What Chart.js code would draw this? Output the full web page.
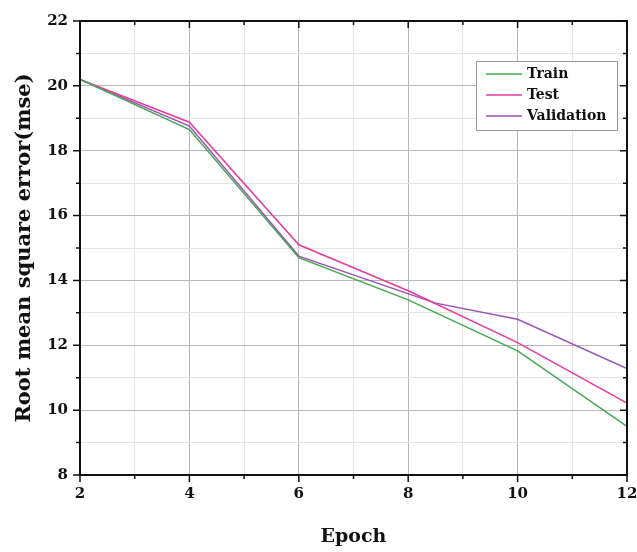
<!DOCTYPE html>
<html>
<head>
<meta charset="utf-8">
<script src="https://cdn.jsdelivr.net/npm/chart.js@4.4.1/dist/chart.umd.min.js"></script>
<style>
  html, body { margin: 0; padding: 0; background: #fff; }
  #wrap { width: 637px; height: 552px; }
</style>
</head>
<body>
<div id="wrap"><canvas id="myChart" width="637" height="552"></canvas></div>
<script>
// values
var epochs = [2, 4, 6, 8, 10, 12];
var trainRmse = [20.2, 18.65, 14.7, 13.4, 11.83, 9.5];
var testRmse = [20.2, 18.88, 15.1, 13.68, 12.08, 10.22];
var validationEpochs = [2, 4, 6, 8.5, 10, 12];
var validationRmse = [20.2, 18.76, 14.75, 13.3, 12.8, 11.28];
var xTicks = [2, 4, 6, 8, 10, 12];
var yTicks = [8, 10, 12, 14, 16, 18, 20, 22];

var serif = "'DejaVu Serif', 'Liberation Serif', serif";

function pts(xs, ys) {
    return xs.map(function(x, i) { return { x: x, y: ys[i] }; });
}

// box, ticks on all four sides
var framePlugin = {
    id: 'frame',
    afterDraw: function(chart) {
        var c = chart.ctx, a = chart.chartArea;
        var xs = chart.scales.x, ys = chart.scales.y;
        c.save();
        c.strokeStyle = '#111';
        c.lineWidth = 2;
        c.strokeRect(a.left, a.top, a.right - a.left, a.bottom - a.top);
        c.lineWidth = 1.5;
        c.beginPath();
        for (var v = xs.min; v <= xs.max; v++) {
            var px = xs.getPixelForValue(v);
            var len = xTicks.indexOf(v) >= 0 ? 7 : 4;
            c.moveTo(px, a.bottom); c.lineTo(px, a.bottom + len);
            c.moveTo(px, a.top); c.lineTo(px, a.top + len);
        }
        for (var w = ys.min; w <= ys.max; w++) {
            var py = ys.getPixelForValue(w);
            var l2 = yTicks.indexOf(w) >= 0 ? 7 : 4;
            c.moveTo(a.left, py); c.lineTo(a.left - l2, py);
            c.moveTo(a.right, py); c.lineTo(a.right - l2, py);
        }
        c.stroke();
        c.restore();
    }
};

// legend box in the upper right of the plot
var legendPlugin = {
    id: 'boxLegend',
    afterDraw: function(chart) {
        var c = chart.ctx;
        var bx = 476, by = 61, bw = 141, bh = 69;
        c.save();
        c.fillStyle = '#fff';
        c.fillRect(bx, by, bw, bh);
        c.strokeStyle = '#999';
        c.lineWidth = 1;
        c.strokeRect(bx + 0.5, by + 0.5, bw, bh);
        c.font = 'bold 14px ' + serif;
        c.textBaseline = 'middle';
        chart.data.datasets.forEach(function(ds, i) {
            var y = by + 13 + i * 21;
            c.strokeStyle = ds.borderColor;
            c.lineWidth = 1.5;
            c.beginPath();
            c.moveTo(bx + 10, y); c.lineTo(bx + 46, y);
            c.stroke();
            c.fillStyle = '#111';
            c.fillText(ds.label, bx + 51, y);
        });
        c.restore();
    }
};

function gridColor(majors) {
    return function(ctx) {
        var v = ctx.tick ? ctx.tick.value : null;
        return majors.indexOf(v) >= 0 ? '#b8b8b8' : '#e4e4e4';
    };
}

var ctx = document.getElementById('myChart').getContext('2d');
var myChart = new Chart(ctx, {
    type: 'line',
    data: {
        datasets: [{
            label: 'Train',
            data: pts(epochs, trainRmse),
            borderColor: '#45a84f',
            borderWidth: 1.5,
            pointRadius: 0,
            tension: 0
        }, {
            label: 'Test',
            data: pts(epochs, testRmse),
            borderColor: '#e63d9c',
            borderWidth: 1.5,
            pointRadius: 0,
            tension: 0
        }, {
            label: 'Validation',
            data: pts(validationEpochs, validationRmse),
            borderColor: '#9b52b8',
            borderWidth: 1.5,
            pointRadius: 0,
            tension: 0
        }]
    },
    options: {
        responsive: false,
        animation: false,
        layout: { padding: { top: 14, right: 0, left: 0, bottom: 0 } },
        plugins: {
            legend: { display: false },
            tooltip: { enabled: false }
        },
        scales: {
            x: {
                type: 'linear',
                min: 2,
                max: 12,
                afterFit: function(s) {
                    s.height = 77;
                    s.paddingRight = 10;
                    s.paddingLeft = 0;
                },
                ticks: {
                    stepSize: 1,
                    autoSkip: false,
                    maxRotation: 0,
                    padding: 10,
                    color: '#111',
                    font: { family: serif, weight: 'bold', size: 15 },
                    callback: function(v) { return xTicks.indexOf(v) >= 0 ? v : ''; }
                },
                grid: { color: gridColor(xTicks), lineWidth: 1, drawTicks: false },
                border: { display: false },
                title: {
                    display: true,
                    text: 'Epoch',
                    color: '#111',
                    font: { family: serif, weight: 'bold', size: 19 },
                    padding: { top: 14 }
                }
            },
            y: {
                min: 8,
                max: 22,
                afterFit: function(s) { s.width = 80; },
                ticks: {
                    stepSize: 1,
                    autoSkip: false,
                    padding: 12,
                    color: '#111',
                    font: { family: serif, weight: 'bold', size: 15 },
                    callback: function(v) { return yTicks.indexOf(v) >= 0 ? v : ''; }
                },
                grid: { color: gridColor(yTicks), lineWidth: 1, drawTicks: false },
                border: { display: false },
                title: {
                    display: true,
                    text: 'Root mean square error(mse)',
                    color: '#111',
                    font: { family: serif, weight: 'bold', size: 21 },
                    padding: { top: 12, bottom: 0 }
                }
            }
        }
    },
    plugins: [framePlugin, legendPlugin]
});
</script>
</body>
</html>
